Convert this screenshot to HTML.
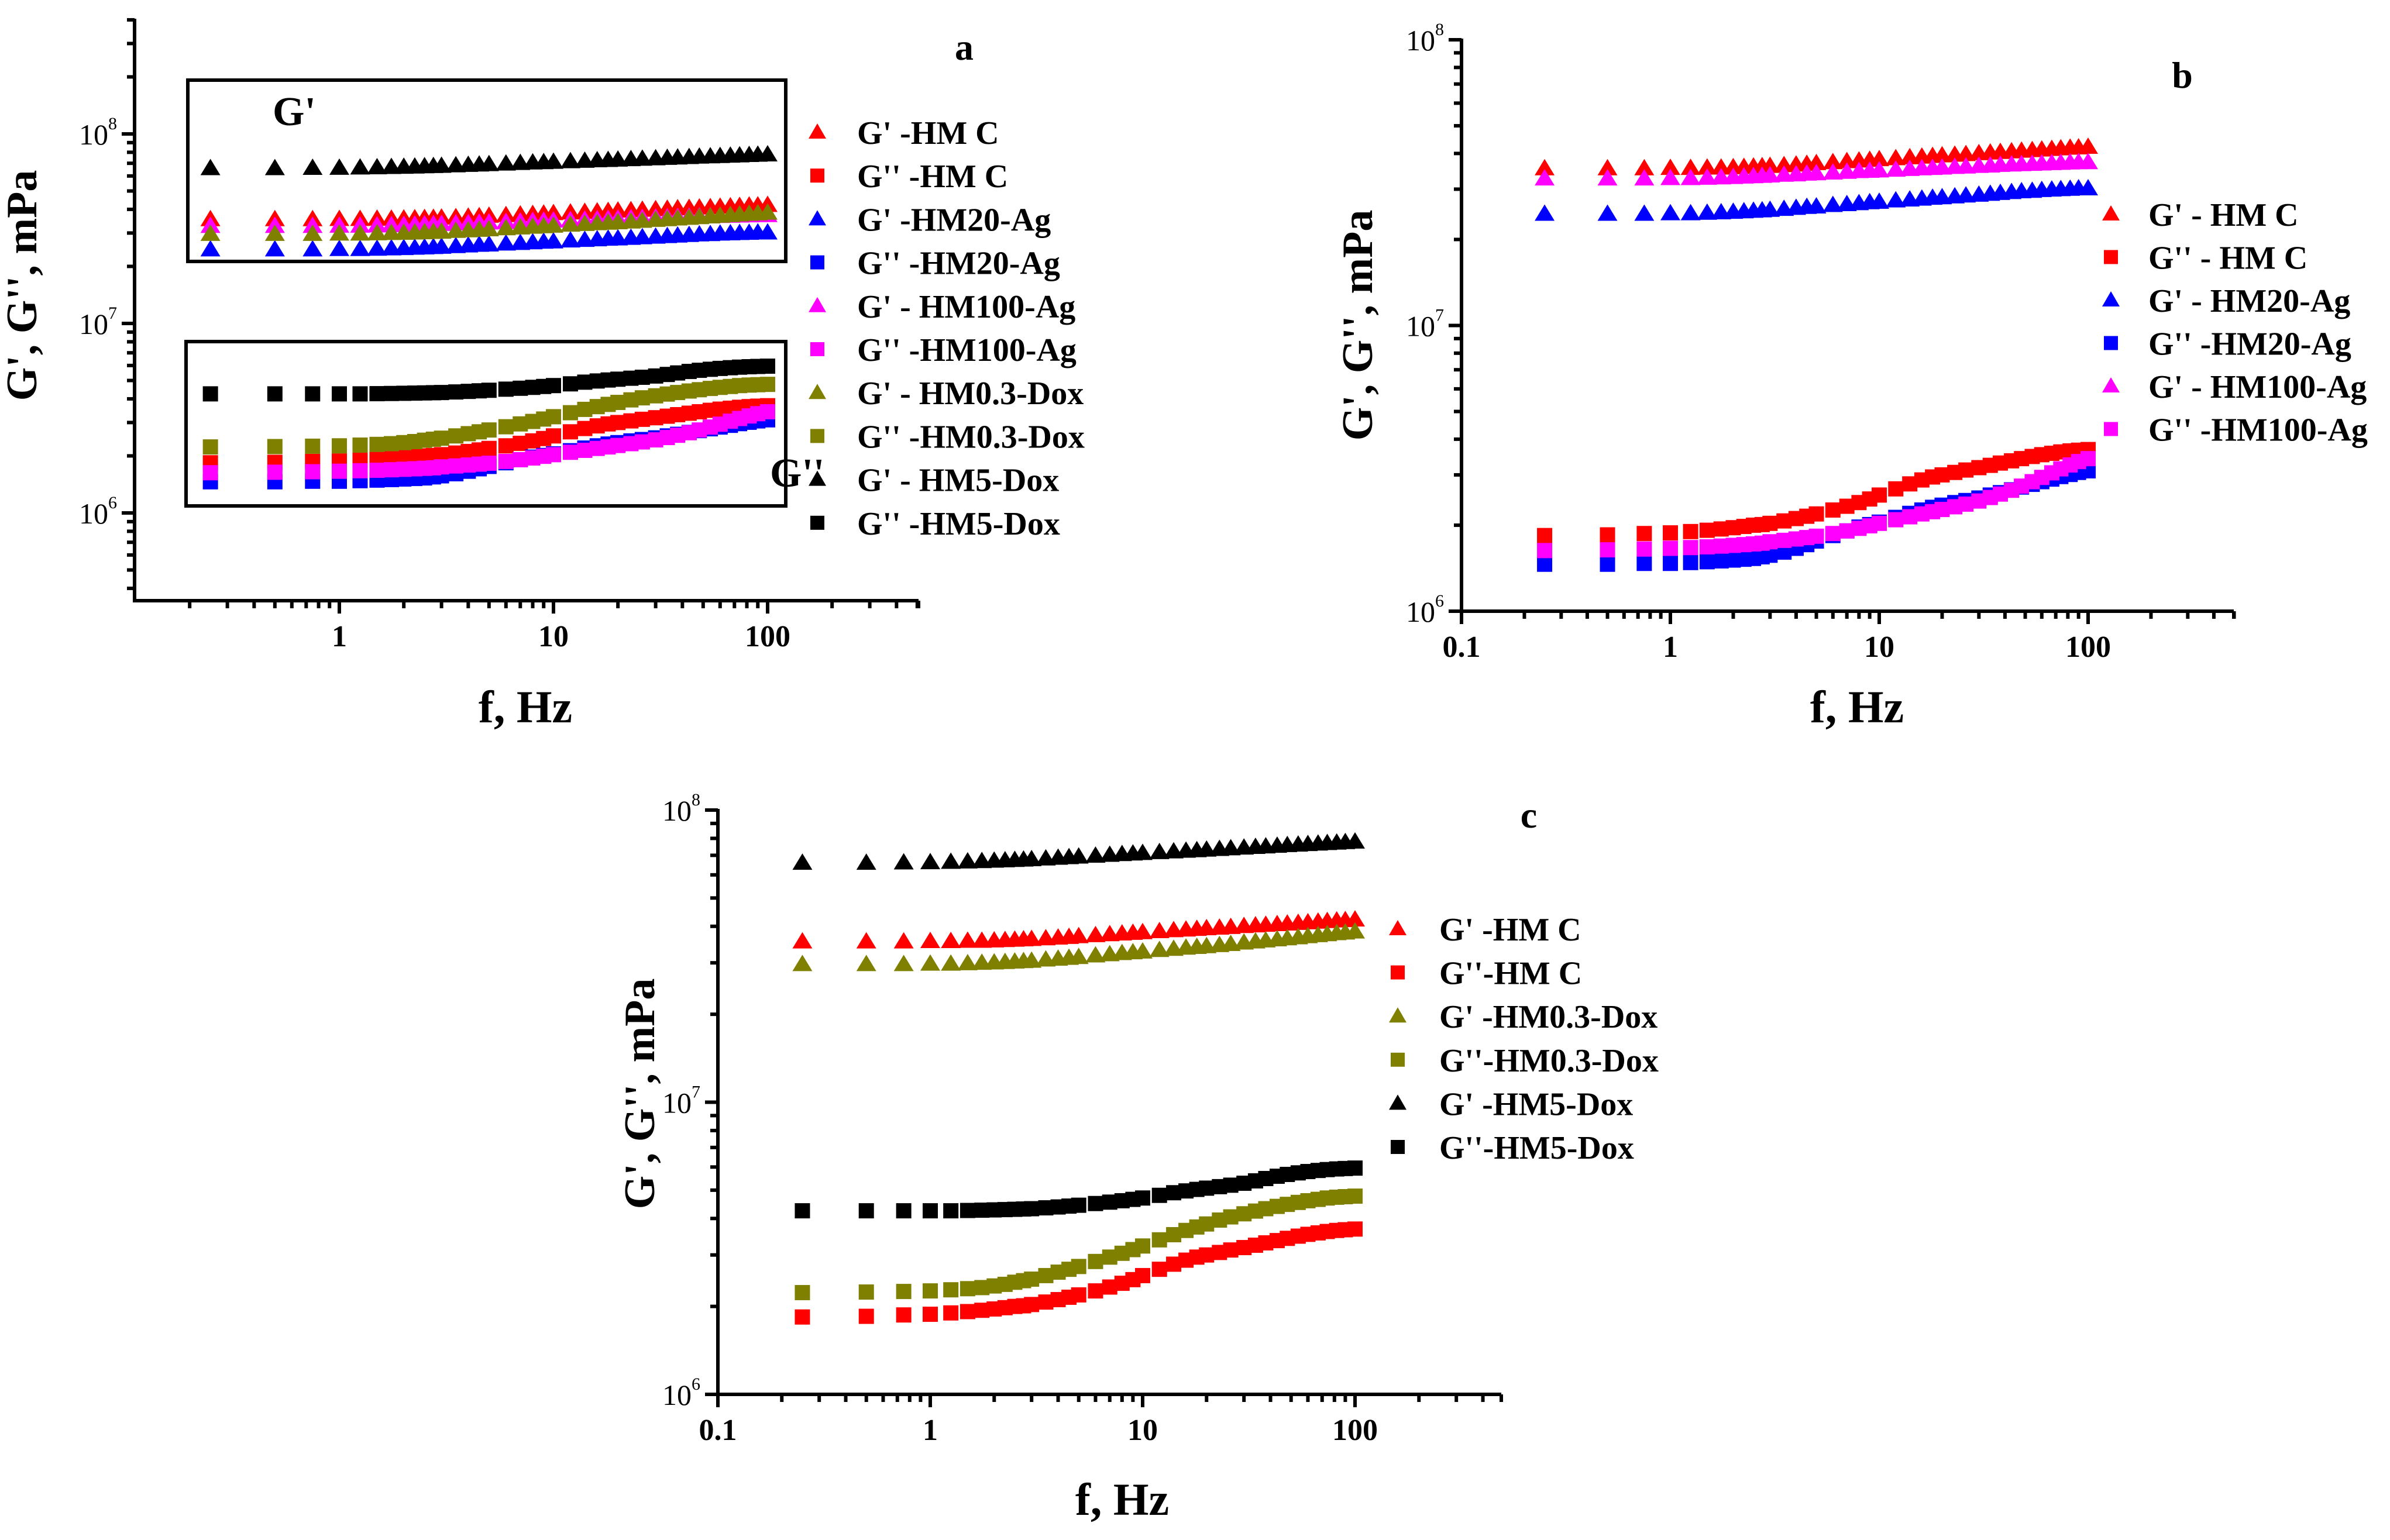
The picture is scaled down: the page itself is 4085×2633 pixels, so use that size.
<!DOCTYPE html>
<html><head><meta charset="utf-8"><style>
html,body{margin:0;padding:0;background:#fff;}
svg{display:block;font-family:"Liberation Serif",serif;}
</style></head><body>
<svg id="fig" width="4085" height="2633" viewBox="0 0 4085 2633" xmlns="http://www.w3.org/2000/svg"></svg>
<script>
// frequency grid (Hz)
const freqs = [0.25,0.5,0.75,1,1.25,1.5,1.75,2,2.25,2.5,2.75,3,3.5,4,4.5,5,6,7,8,9,10,12,14,16,18,20,23,26,30,34,38,43,48,54,60,67,74,82,90,100];
// values in units of 1e6 mPa
const gpHMC = [35.5,35.5,35.5,35.6,35.6,35.7,35.7,35.8,35.9,36,36.1,36.2,36.4,36.6,36.8,37,37.3,37.6,37.8,38,38.2,38.5,38.8,39,39.2,39.4,39.6,39.8,40.1,40.3,40.5,40.7,40.9,41.1,41.3,41.5,41.7,41.9,42,42.2];
const gppHMC = [1.84,1.85,1.87,1.88,1.90,1.92,1.94,1.96,1.98,2.0,2.01,2.03,2.07,2.11,2.15,2.19,2.26,2.33,2.40,2.47,2.55,2.68,2.79,2.88,2.95,3.0,3.06,3.12,3.18,3.24,3.30,3.36,3.42,3.48,3.53,3.57,3.61,3.64,3.66,3.68];
const gpHM20 = [24.6,24.6,24.6,24.7,24.7,24.8,24.9,25,25.1,25.2,25.3,25.4,25.6,25.8,26,26.1,26.4,26.6,26.8,27,27.1,27.4,27.6,27.8,28,28.1,28.3,28.5,28.7,28.9,29.1,29.3,29.5,29.6,29.8,29.9,30,30.1,30.2,30.2];
const gppHM20 = [1.46,1.46,1.47,1.47,1.48,1.49,1.50,1.51,1.52,1.53,1.55,1.57,1.61,1.66,1.71,1.76,1.84,1.91,1.97,2.01,2.05,2.13,2.20,2.26,2.31,2.35,2.40,2.44,2.49,2.55,2.60,2.66,2.72,2.78,2.84,2.90,2.96,3.01,3.06,3.10];
const gpHM100 = [32.7,32.7,32.7,32.8,32.8,32.9,33,33.1,33.2,33.3,33.4,33.5,33.7,33.8,34,34.1,34.3,34.5,34.7,34.8,34.9,35.1,35.3,35.5,35.6,35.7,35.9,36,36.2,36.3,36.5,36.6,36.7,36.8,36.9,37,37.1,37.2,37.3,37.3];
const gppHM100 = [1.63,1.64,1.65,1.66,1.67,1.68,1.69,1.70,1.71,1.72,1.73,1.75,1.77,1.79,1.81,1.83,1.87,1.91,1.95,1.99,2.03,2.09,2.14,2.19,2.23,2.27,2.32,2.37,2.43,2.50,2.57,2.65,2.74,2.84,2.94,3.05,3.15,3.25,3.34,3.42];
const gpHM03 = [29.7,29.7,29.7,29.8,29.8,29.9,30,30.1,30.2,30.3,30.4,30.5,30.8,31,31.2,31.4,31.8,32.1,32.4,32.6,32.8,33.2,33.5,33.8,34,34.2,34.5,34.8,35.2,35.5,35.8,36.1,36.4,36.7,37,37.3,37.6,37.9,38.1,38.4];
const gppHM03 = [2.23,2.24,2.25,2.26,2.28,2.30,2.32,2.35,2.38,2.42,2.45,2.48,2.55,2.62,2.68,2.74,2.85,2.95,3.04,3.13,3.22,3.38,3.52,3.64,3.74,3.83,3.95,4.05,4.15,4.24,4.32,4.40,4.47,4.54,4.60,4.65,4.70,4.73,4.75,4.77];
const gpHM5 = [66,66,66.2,66.3,66.5,66.7,66.9,67.1,67.3,67.5,67.7,67.9,68.3,68.7,69,69.3,69.8,70.3,70.7,71,71.3,71.8,72.2,72.6,72.9,73.2,73.6,74,74.4,74.8,75.1,75.5,75.9,76.2,76.5,76.8,77.1,77.4,77.7,78];
const gppHM5 = [4.25,4.25,4.25,4.25,4.25,4.26,4.27,4.28,4.29,4.30,4.31,4.32,4.35,4.38,4.41,4.44,4.50,4.55,4.60,4.65,4.70,4.80,4.90,4.97,5.03,5.08,5.14,5.20,5.28,5.38,5.48,5.58,5.66,5.73,5.79,5.84,5.88,5.91,5.93,5.95];

const S = {
  gpHMC:{v:gpHMC,c:'#ff0000',m:'tri'}, gppHMC:{v:gppHMC,c:'#ff0000',m:'sq'},
  gpHM20:{v:gpHM20,c:'#0000ff',m:'tri'}, gppHM20:{v:gppHM20,c:'#0000ff',m:'sq'},
  gpHM100:{v:gpHM100,c:'#ff00ff',m:'tri'}, gppHM100:{v:gppHM100,c:'#ff00ff',m:'sq'},
  gpHM03:{v:gpHM03,c:'#808000',m:'tri'}, gppHM03:{v:gppHM03,c:'#808000',m:'sq'},
  gpHM5:{v:gpHM5,c:'#000000',m:'tri'}, gppHM5:{v:gppHM5,c:'#000000',m:'sq'}
};
const legendA = [["gpHMC","G' -HM C"],["gppHMC","G'' -HM C"],["gpHM20","G' -HM20-Ag"],["gppHM20","G'' -HM20-Ag"],["gpHM100","G' - HM100-Ag"],["gppHM100","G'' -HM100-Ag"],["gpHM03","G' - HM0.3-Dox"],["gppHM03","G'' -HM0.3-Dox"],["gpHM5","G' - HM5-Dox"],["gppHM5","G'' -HM5-Dox"]];
const legendB = [["gpHMC","G' - HM C"],["gppHMC","G'' - HM C"],["gpHM20","G' - HM20-Ag"],["gppHM20","G'' -HM20-Ag"],["gpHM100","G' - HM100-Ag"],["gppHM100","G'' -HM100-Ag"]];
const legendC = [["gpHMC","G' -HM C"],["gppHMC","G''-HM C"],["gpHM03","G' -HM0.3-Dox"],["gppHM03","G''-HM0.3-Dox"],["gpHM5","G' -HM5-Dox"],["gppHM5","G''-HM5-Dox"]];

const NS='http://www.w3.org/2000/svg';
const svg=document.getElementById('fig');
function mk(tag,parent,attrs){const e=document.createElementNS(NS,tag);for(const k in attrs)e.setAttribute(k,attrs[k]);parent.appendChild(e);return e;}

function panel(p){
  const g=mk('g',svg,{});
  
  
  const X=f=>p.x1+(Math.log10(f))*p.xd;
  const Y=v=>p.y8+(8-Math.log10(v))*p.yd;
  const ax=mk('path',g,{d:`M${p.left},${p.top} L${p.left},${p.bottom} L${p.right},${p.bottom}`,fill:'none',stroke:'#000','stroke-width':6});
  
  
  for(let e=-1;e<=2;e++){for(let k=1;k<=9;k++){const f=k*Math.pow(10,e);const x=X(f);if(x<p.left-1||x>p.right+1)continue;
    mk('line',g,{x1:x,y1:p.bottom,x2:x,y2:p.bottom+(k===1?22:13),stroke:'#000','stroke-width':6});}}
  mk('line',g,{x1:p.right,y1:p.bottom,x2:p.right,y2:p.bottom+13,stroke:'#000','stroke-width':6});
  p.xlabels.forEach(f=>{const t=mk('text',g,{x:X(f),y:p.bottom+78,'text-anchor':'middle','font-size':52,'font-weight':'bold'});t.textContent=String(f);
    
    });
  for(let e=5;e<=8;e++){for(let k=1;k<=9;k++){const v=k*Math.pow(10,e);const y=Y(v);if(y>p.bottom+1||y<p.top-1)continue;
    mk('line',g,{x1:p.left,y1:y,x2:p.left-(k===1?22:13),y2:y,stroke:'#000','stroke-width':6});}}
  [6,7,8].forEach(e=>{const t=mk('text',g,{x:p.left-30,y:Y(Math.pow(10,e))+18,'text-anchor':'end','font-size':50});
    
    
    const a=mk('tspan',t,{});a.textContent='10';const b=mk('tspan',t,{'font-size':30,dy:-26});b.textContent=String(e);});
  const yt=mk('text',g,{x:0,y:0,transform:`translate(${p.ytx},${p.yty}) rotate(-90)`,'text-anchor':'middle','font-size':74,'font-weight':'bold'});
  yt.textContent="G', G'', mPa";
  
  
  const xt=mk('text',g,{x:p.xtx,y:p.xty,'text-anchor':'middle','font-size':78,'font-weight':'bold'});
  xt.textContent='f, Hz';
  
  
  const pl=mk('text',g,{x:p.lx,y:p.ly,'text-anchor':'middle','font-size':64,'font-weight':'bold'});
  pl.textContent=p.id;
  
  
  p.legend.forEach(([key,label],i)=>{
    const s=S[key];
    const sg=mk('g',g,{fill:s.c});
    
    
    freqs.forEach((f,j)=>{const x=X(f),y=Y(s.v[j]*1e6);
      if(s.m==='tri') mk('path',sg,{d:`M${x},${y-16} L${x+17},${y+12} L${x-17},${y+12} Z`});
      else mk('rect',sg,{x:x-13,y:y-13,width:26,height:26});});
    const ly=p.legY+i*p.legDy;
    const lg=mk('g',g,{});
    
    
    if(s.m==='tri') mk('path',lg,{d:`M${p.legMx},${ly-15} L${p.legMx+15},${ly+11} L${p.legMx-15},${ly+11} Z`,fill:s.c});
    else mk('rect',lg,{x:p.legMx-12,y:ly-12,width:24,height:24,fill:s.c});
    const lt=mk('text',lg,{x:p.legTx,y:ly+20,'font-size':56,'font-weight':'bold'});lt.textContent=label;
  });
  return g;
}

const ga=panel({id:'a',left:230,right:1570,top:32,bottom:1027,x1:580,xd:366,y8:229,yd:324,
  xlabels:[1,10,100],ytx:62,yty:488,xtx:898,xty:1235,lx:1648,ly:102,
  legend:legendA,legY:226,legDy:74.2,legMx:1397,legTx:1465});
const b1=mk('rect',ga,{x:321,y:137,width:1022,height:310,fill:'none',stroke:'#000','stroke-width':6});


const b2=mk('rect',ga,{x:318,y:584,width:1025,height:281,fill:'none',stroke:'#000','stroke-width':6});


const t1=mk('text',ga,{x:466,y:214,'font-size':70,'font-weight':'bold'});t1.textContent="G'";


const t2=mk('text',ga,{x:1316,y:832,'font-size':70,'font-weight':'bold'});t2.textContent="G''";



panel({id:'b',left:2498,right:3818,top:66,bottom:1045,x1:2855,xd:357,y8:68,yd:488.5,
  xlabels:[0.1,1,10,100],ytx:2345,yty:556,xtx:3174,xty:1235,lx:3730,ly:150,
  legend:legendB,legY:366,legDy:73.5,legMx:3608,legTx:3672});

panel({id:'c',left:1227,right:2566,top:1383,bottom:2384,x1:1590,xd:363,y8:1385,yd:499.5,
  xlabels:[0.1,1,10,100],ytx:1118,yty:1870,xtx:1918,xty:2590,lx:2613,ly:1415,
  legend:legendC,legY:1588,legDy:74.6,legMx:2389,legTx:2460});
</script>
</body></html>
